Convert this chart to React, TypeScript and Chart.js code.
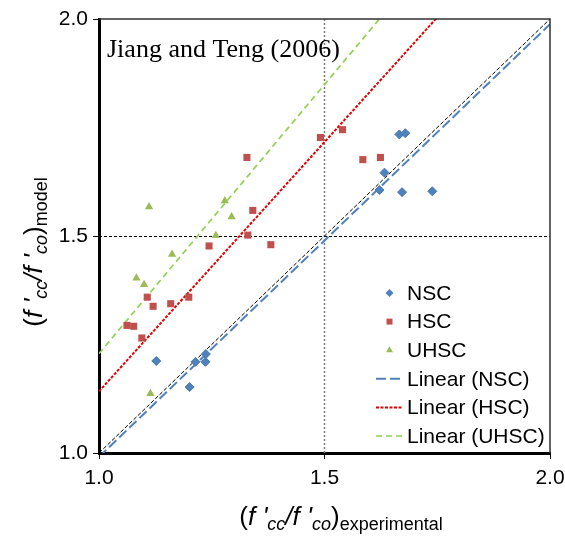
import React, { useEffect, useRef } from 'react';
import { Chart, registerables } from 'chart.js';

Chart.register(...registerables);

// ---- Data ----
const nscX = [1.127, 1.214, 1.237, 1.236, 1.201, 1.633, 1.622, 1.672, 1.739, 1.666, 1.679];
const nscY = [1.212, 1.210, 1.228, 1.210, 1.152, 1.646, 1.606, 1.601, 1.603, 1.734, 1.737];
const hscX = [1.107, 1.120, 1.159, 1.199, 1.062, 1.077, 1.095, 1.328, 1.341, 1.330, 1.244, 1.381, 1.491, 1.540, 1.585, 1.624];
const hscY = [1.359, 1.338, 1.344, 1.359, 1.294, 1.292, 1.265, 1.681, 1.559, 1.502, 1.477, 1.480, 1.727, 1.745, 1.676, 1.681];
const uhscX = [1.083, 1.100, 1.114, 1.111, 1.279, 1.294, 1.259, 1.162];
const uhscY = [1.403, 1.388, 1.137, 1.567, 1.581, 1.544, 1.501, 1.458];
const trendX = [1.0, 2.0];
const nscTrendY = [0.991, 1.988];
const hscTrendY = [1.142, 2.291];
const uhscTrendY = [1.229, 2.469];
const equalityY = [1.0, 2.0];
const axisMin = 1.0;
const axisMax = 2.0;
const axisStep = 0.5;
const refValue = 1.5;
const chartTitle = 'Jiang and Teng (2006)';
const xSub = 'experimental';
const ySub = 'model';

const SANS = '"Liberation Sans", Arial, sans-serif';
const SERIF = '"Liberation Serif", "Times New Roman", serif';

const pts = (xs: number[], ys: number[]) => xs.map((x, i) => ({ x, y: ys[i] }));

type Seg = { t: string; font: string; dy: number };

function titleSegs(sub: string): Seg[] {
  const big = `26px ${SANS}`;
  const bigI = `italic 26px ${SANS}`;
  const smI = `italic 18px ${SANS}`;
  const sm = `18px ${SANS}`;
  return [
    { t: '(', font: big, dy: 0 },
    { t: 'f', font: bigI, dy: 0 },
    { t: " '", font: bigI, dy: 0 },
    { t: 'cc', font: smI, dy: 5 },
    { t: '/', font: bigI, dy: 0 },
    { t: 'f', font: bigI, dy: 0 },
    { t: " '", font: bigI, dy: 0 },
    { t: 'co', font: smI, dy: 5 },
    { t: ')', font: big, dy: 0 },
    { t: sub, font: sm, dy: 5 },
  ];
}

function drawRich(ctx: CanvasRenderingContext2D, segs: Seg[], cx: number, cy: number, rotate: boolean) {
  ctx.save();
  ctx.translate(cx, cy);
  if (rotate) ctx.rotate(-Math.PI / 2);
  ctx.textAlign = 'left';
  ctx.textBaseline = 'alphabetic';
  ctx.fillStyle = '#000';
  let total = 0;
  const widths = segs.map((s) => {
    ctx.font = s.font;
    const w = ctx.measureText(s.t).width;
    total += w;
    return w;
  });
  let xx = -total / 2;
  segs.forEach((s, i) => {
    ctx.font = s.font;
    ctx.fillText(s.t, xx, s.dy);
    xx += widths[i];
  });
  ctx.restore();
}

function drawMarker(ctx: CanvasRenderingContext2D, style: string, x: number, y: number, r: number, color: string) {
  ctx.beginPath();
  ctx.fillStyle = color;
  if (style === 'rectRot') {
    ctx.moveTo(x, y - r);
    ctx.lineTo(x + r, y);
    ctx.lineTo(x, y + r);
    ctx.lineTo(x - r, y);
  } else if (style === 'rect') {
    ctx.rect(x - r * 0.75, y - r * 0.75, r * 1.5, r * 1.5);
  } else {
    ctx.moveTo(x, y - r);
    ctx.lineTo(x + r * 0.87, y + r * 0.5);
    ctx.lineTo(x - r * 0.87, y + r * 0.5);
  }
  ctx.closePath();
  ctx.fill();
}

const overlayPlugin = {
  id: 'overlay',
  beforeDatasetsDraw(chart: any) {
    const { ctx, chartArea: a, scales } = chart;
    const px = scales.x.getPixelForValue(refValue);
    const py = scales.y.getPixelForValue(refValue);
    ctx.save();
    ctx.setLineDash([2, 2]);
    ctx.strokeStyle = '#7a7a7a';
    ctx.lineWidth = 1.5;
    ctx.beginPath();
    ctx.moveTo(px, a.top);
    ctx.lineTo(px, a.bottom);
    ctx.stroke();
    ctx.setLineDash([3, 2]);
    ctx.strokeStyle = '#000';
    ctx.lineWidth = 1;
    ctx.beginPath();
    ctx.moveTo(a.left, Math.round(py) + 0.5);
    ctx.lineTo(a.right, Math.round(py) + 0.5);
    ctx.stroke();
    ctx.restore();
  },
  afterDraw(chart: any) {
    const { ctx, chartArea: a } = chart;
    ctx.save();
    // top and right frame
    ctx.strokeStyle = '#303030';
    ctx.lineWidth = 1.5;
    ctx.setLineDash([]);
    ctx.beginPath();
    ctx.moveTo(a.left, a.top);
    ctx.lineTo(a.right, a.top);
    ctx.lineTo(a.right, a.bottom);
    ctx.stroke();

    // chart title inside plot
    ctx.font = `26px ${SERIF}`;
    ctx.fillStyle = '#000';
    ctx.textAlign = 'left';
    ctx.textBaseline = 'alphabetic';
    ctx.fillText(chartTitle, a.left + 8, a.top + 38);

    // legend
    const items = chart.data.datasets.filter((d: any) => d.label);
    const textX = a.right - 143;
    const markX = a.right - 160.5;
    let rowY = a.bottom - 160;
    ctx.font = `21px ${SANS}`;
    ctx.textBaseline = 'middle';
    items.forEach((d: any) => {
      if (d.showLine) {
        ctx.save();
        ctx.strokeStyle = d.borderColor;
        ctx.lineWidth = Math.min(d.borderWidth, 2);
        ctx.setLineDash(d.borderDash || []);
        ctx.beginPath();
        ctx.moveTo(markX - 13.5, rowY);
        ctx.lineTo(markX + 13.5, rowY);
        ctx.stroke();
        ctx.restore();
      } else {
        drawMarker(ctx, d.pointStyle, markX, rowY, 4, d.backgroundColor);
      }
      ctx.fillStyle = '#000';
      ctx.fillText(d.label, textX, rowY + 1);
      rowY += 28.6;
    });

    // axis titles
    drawRich(ctx, titleSegs(xSub), 341, a.bottom + 72, false);
    drawRich(ctx, titleSegs(ySub), 42, 252, true);
    ctx.restore();
  },
};

export default function App() {
  const ref = useRef<HTMLCanvasElement | null>(null);
  useEffect(() => {
    if (!ref.current) return;
    const tickFont = { family: SANS, size: 21 };
    const fitScale = (size: number, horiz: boolean) => (s: any) => {
      if (horiz) s.height = size;
      else s.width = size;
      s.paddingLeft = 0;
      s.paddingRight = 0;
      s.paddingTop = 0;
      s.paddingBottom = 0;
    };
    const chart = new Chart(ref.current, {
      type: 'scatter',
      data: {
        datasets: [
          {
            label: 'NSC',
            data: pts(nscX, nscY),
            pointStyle: 'rectRot',
            pointRadius: 4.5,
            backgroundColor: '#4F81BD',
            borderColor: '#4A77AC',
            borderWidth: 1,
          },
          {
            label: 'HSC',
            data: pts(hscX, hscY),
            pointStyle: 'rect',
            pointRadius: 5,
            backgroundColor: '#C0504D',
            borderColor: '#C0504D',
            borderWidth: 0,
          },
          {
            label: 'UHSC',
            data: pts(uhscX, uhscY),
            pointStyle: 'triangle',
            pointRadius: 4.8,
            backgroundColor: '#9BBB59',
            borderColor: '#9BBB59',
            borderWidth: 0,
          },
          {
            label: 'Linear (NSC)',
            data: pts(trendX, nscTrendY),
            showLine: true,
            pointRadius: 0,
            borderColor: '#4F81BD',
            borderWidth: 2,
            borderDash: [10, 4],
          },
          {
            label: 'Linear (HSC)',
            data: pts(trendX, hscTrendY),
            showLine: true,
            pointRadius: 0,
            borderColor: '#E00000',
            borderWidth: 2,
            borderDash: [3, 1.5],
          },
          {
            label: 'Linear (UHSC)',
            data: pts(trendX, uhscTrendY),
            showLine: true,
            pointRadius: 0,
            borderColor: '#92D050',
            borderWidth: 1.7,
            borderDash: [6, 4],
          },
          {
            data: pts(trendX, equalityY),
            showLine: true,
            pointRadius: 0,
            borderColor: '#000',
            borderWidth: 1,
            borderDash: [4, 2],
          },
        ],
      },
      options: {
        animation: false,
        responsive: false,
        devicePixelRatio: 1,
        layout: { padding: { left: 0, top: 19, right: 15, bottom: 0 } },
        plugins: {
          legend: { display: false },
          tooltip: { enabled: false },
          title: { display: false },
        },
        scales: {
          x: {
            type: 'linear',
            min: axisMin,
            max: axisMax,
            afterFit: fitScale(85, true),
            border: { display: true, color: '#000', width: 3 },
            grid: { drawOnChartArea: false, drawTicks: true, tickLength: 6, tickColor: '#000', tickWidth: 1 },
            ticks: {
              stepSize: axisStep,
              font: tickFont,
              color: '#000',
              padding: 7,
              maxRotation: 0,
              callback: (v: any) => Number(v).toFixed(1),
            },
          },
          y: {
            type: 'linear',
            min: axisMin,
            max: axisMax,
            afterFit: fitScale(99, false),
            border: { display: true, color: '#000', width: 3 },
            grid: { drawOnChartArea: false, drawTicks: true, tickLength: 6, tickColor: '#000', tickWidth: 1 },
            ticks: {
              stepSize: axisStep,
              font: tickFont,
              color: '#000',
              padding: 5,
              callback: (v: any) => Number(v).toFixed(1),
            },
          },
        },
      },
      plugins: [overlayPlugin],
    } as any);
    return () => chart.destroy();
  }, []);
  return (
    <div style={{ position: 'absolute', left: 0, top: 0, width: 565, height: 538, background: '#fff' }}>
      <canvas ref={ref} width={565} height={538} style={{ display: 'block' }} />
    </div>
  );
}
